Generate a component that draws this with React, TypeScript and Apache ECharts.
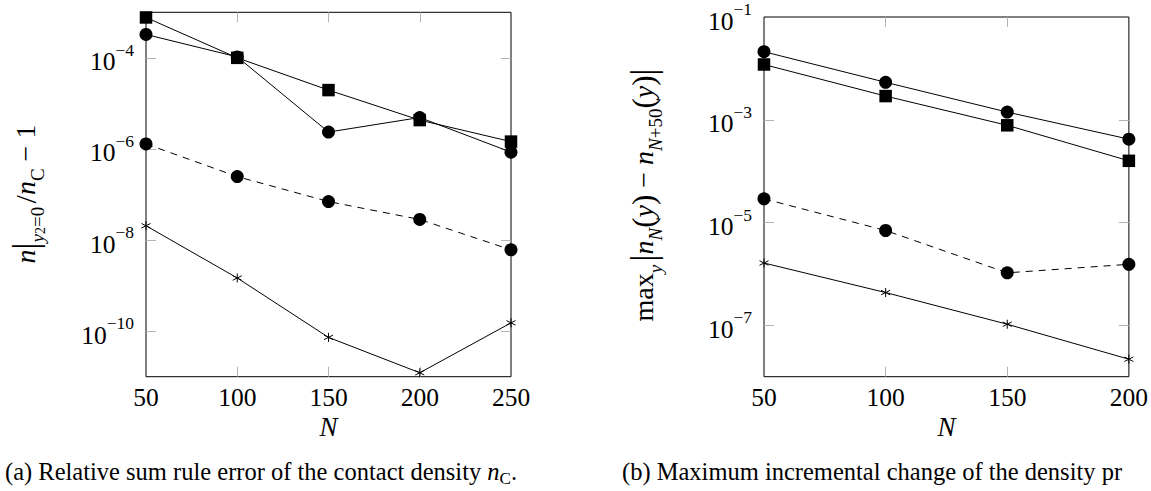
import React, { useEffect, useRef } from "react";
import * as echarts from "echarts";

// ---------- data ----------
const leftN = [50, 100, 150, 200, 250];
const leftSquares = [7.7e-4, 1.0e-4, 1.96e-5, 4.3e-6, 1.45e-6];
const leftCircles = [3.26e-4, 1.05e-4, 2.35e-6, 4.9e-6, 8.5e-7];
const leftDashed = [1.29e-6, 2.47e-7, 7.0e-8, 2.83e-8, 6.1e-9];
const leftStars = [2.06e-8, 1.47e-9, 7.3e-11, 1.22e-11, 1.52e-10];

const rightN = [50, 100, 150, 200];
const rightCircles = [2.11e-2, 5.36e-3, 1.41e-3, 4.2e-4];
const rightSquares = [1.19e-2, 2.89e-3, 7.8e-4, 1.59e-4];
const rightDashed = [2.89e-5, 7.0e-6, 1.05e-6, 1.54e-6];
const rightStars = [1.63e-6, 4.34e-7, 1.05e-7, 2.19e-8];

const leftXLabels = [50, 100, 150, 200, 250];
const leftXTicks = [100, 150, 200];
const leftYExp = [-10, -8, -6, -4];
const rightXLabels = [50, 100, 150, 200];
const rightXTicks = [100, 150];
const rightYLabelExp = [-7, -5, -3, -1];
const rightYTickExp = [-7, -5, -3];

const captionA = "(a) Relative sum rule error of the contact density ";
const captionB = "(b) Maximum incremental change of the density pr";

// ---------- styling ----------
const SERIF = "Liberation Serif";
const TICK_COLOR = "#b4b4b4";
const STAR = "path://M5,0L5,10M0.67,2.5L9.33,7.5M0.67,7.5L9.33,2.5";

const tickRich = {
  b: { fontFamily: SERIF, fontSize: 25.5, lineHeight: 34, verticalAlign: "bottom", color: "#000" },
  s: { fontFamily: SERIF, fontSize: 17.5, lineHeight: 20, verticalAlign: "top", color: "#000" },
};
const powLabel = (v: number) => `{b|10}{s|−${Math.abs(Math.round(v))}}`;

function pairs(xs: number[], ys: number[]) {
  return xs.map((x, i) => [x, Math.log10(ys[i])]);
}

function mkSeries(axisIdx: number, data: number[][], kind: "square" | "circle" | "star", dashed = false) {
  const sym = kind === "square" ? "rect" : kind === "circle" ? "circle" : STAR;
  const size = kind === "square" ? 12.5 : kind === "circle" ? 13 : 9;
  return {
    type: "line",
    xAxisIndex: axisIdx,
    yAxisIndex: axisIdx,
    data,
    clip: false,
    symbol: sym,
    symbolSize: size,
    showSymbol: true,
    lineStyle: { color: "#000", width: 1, type: dashed ? [7, 6] : "solid" },
    itemStyle:
      kind === "star"
        ? { color: "none", borderColor: "#000", borderWidth: 1 }
        : { color: "#000", borderWidth: 0 },
    emphasis: { disabled: true },
    z: 5,
  };
}

function xAxes(grid: number, min: number, max: number, labels: number[], ticks: number[]) {
  const base = {
    type: "value",
    gridIndex: grid,
    min,
    max,
    splitLine: { show: false },
    axisLine: { show: false },
    axisTick: { show: true, inside: true, length: 10, customValues: ticks, lineStyle: { color: TICK_COLOR, width: 1 } },
  };
  return [
    {
      ...base,
      position: "bottom",
      axisLabel: {
        show: true,
        customValues: labels,
        margin: 8,
        fontFamily: SERIF,
        fontSize: 25.5,
        color: "#000",
        hideOverlap: false,
      },
    },
    { ...base, position: "top", axisLabel: { show: false } },
  ];
}

function yAxes(grid: number, min: number, max: number, labels: number[], ticks: number[]) {
  const base = {
    type: "value",
    gridIndex: grid,
    min,
    max,
    splitLine: { show: false },
    axisLine: { show: false },
    axisTick: { show: true, inside: true, length: 10, customValues: ticks, lineStyle: { color: TICK_COLOR, width: 1 } },
  };
  return [
    {
      ...base,
      position: "left",
      axisLabel: {
        show: true,
        customValues: labels,
        margin: 12,
        formatter: powLabel,
        rich: tickRich,
      },
    },
    { ...base, position: "right", axisLabel: { show: false } },
  ];
}

const GRID_TOP = 12.3;
const GRID_H = 364.4;

const leftYName = "{i|n}{bar||}{si|y}{ss|2}{sr|=0} {bar2|/}{i|n}{sr|C}{r| − 1}";
const rightYName =
  "{r|max}{si|y} {bar||}{i|n}{si|N}{p|(}{i|y}{p|)}{r| − }{i|n}{si|N}{sr|+50}{p|(}{i|y}{p|)}{bar||}";

const nameRich = {
  i: { fontFamily: SERIF, fontStyle: "italic", fontSize: 28, lineHeight: 44, verticalAlign: "middle", color: "#000" },
  r: { fontFamily: SERIF, fontSize: 28, lineHeight: 44, verticalAlign: "middle", color: "#000" },
  p: { fontFamily: SERIF, fontSize: 31, lineHeight: 44, verticalAlign: "middle", color: "#000" },
  bar: { fontFamily: SERIF, fontSize: 35, lineHeight: 44, verticalAlign: "middle", color: "#000" },
  bar2: { fontFamily: SERIF, fontSize: 30, lineHeight: 44, verticalAlign: "middle", color: "#000" },
  si: { fontFamily: SERIF, fontStyle: "italic", fontSize: 19, lineHeight: 27, verticalAlign: "bottom", color: "#000" },
  sr: { fontFamily: SERIF, fontSize: 19, lineHeight: 27, verticalAlign: "bottom", color: "#000" },
  ss: { fontFamily: SERIF, fontSize: 14, lineHeight: 19, verticalAlign: "bottom", color: "#000" },
};

const capRich = {
  r: { fontFamily: SERIF, fontSize: 24.5, lineHeight: 32, verticalAlign: "middle", color: "#000" },
  i: { fontFamily: SERIF, fontStyle: "italic", fontSize: 24.5, lineHeight: 32, verticalAlign: "middle", color: "#000" },
  sr: { fontFamily: SERIF, fontSize: 17, lineHeight: 22, verticalAlign: "bottom", color: "#000" },
};

const option = {
  animation: false,
  backgroundColor: "#fff",
  grid: [
    { left: 146, top: GRID_TOP, width: 365, height: GRID_H, show: true, borderColor: "#000", borderWidth: 1, backgroundColor: "transparent" },
    { left: 764, top: GRID_TOP, width: 365.3, height: GRID_H, show: true, borderColor: "#000", borderWidth: 1, backgroundColor: "transparent" },
  ],
  xAxis: [
    ...xAxes(0, 50, 250, leftXLabels, leftXTicks),
    ...xAxes(1, 50, 200, rightXLabels, rightXTicks),
  ],
  yAxis: [
    ...yAxes(0, -11, -3, leftYExp, leftYExp),
    ...yAxes(1, -8, -1, rightYLabelExp, rightYTickExp),
  ],
  series: [
    mkSeries(0, pairs(leftN, leftSquares), "square"),
    mkSeries(0, pairs(leftN, leftCircles), "circle"),
    mkSeries(0, pairs(leftN, leftDashed), "circle", true),
    mkSeries(0, pairs(leftN, leftStars), "star"),
    mkSeries(2, pairs(rightN, rightCircles), "circle"),
    mkSeries(2, pairs(rightN, rightSquares), "square"),
    mkSeries(2, pairs(rightN, rightDashed), "circle", true),
    mkSeries(2, pairs(rightN, rightStars), "star"),
  ],
  graphic: [
    {
      type: "text",
      x: 25,
      y: 194,
      rotation: Math.PI / 2,
      style: { text: leftYName, rich: nameRich, align: "center", verticalAlign: "middle" },
    },
    {
      type: "text",
      x: 643,
      y: 195,
      rotation: Math.PI / 2,
      style: { text: rightYName, rich: nameRich, align: "center", verticalAlign: "middle" },
    },
    {
      type: "text",
      x: 328.5,
      y: 427,
      style: { text: "N", fontFamily: SERIF, fontStyle: "italic", fontSize: 27, fill: "#000", align: "center", verticalAlign: "middle" },
    },
    {
      type: "text",
      x: 946.6,
      y: 427,
      style: { text: "N", fontFamily: SERIF, fontStyle: "italic", fontSize: 27, fill: "#000", align: "center", verticalAlign: "middle" },
    },
    {
      type: "text",
      x: 5,
      y: 471,
      style: { text: `{r|${captionA}}{i|n}{sr|C}{r|.}`, rich: capRich, align: "left", verticalAlign: "middle" },
    },
    {
      type: "text",
      x: 622,
      y: 471,
      style: { text: `{r|${captionB}}`, rich: capRich, align: "left", verticalAlign: "middle" },
    },
  ],
};

export default function App() {
  const ref = useRef<HTMLDivElement>(null);
  useEffect(() => {
    const chart = echarts.init(ref.current!, null, { renderer: "svg" });
    chart.setOption(option as any);
    return () => chart.dispose();
  }, []);
  return (
    <div
      ref={ref}
      style={{ position: "fixed", left: 0, top: 0, width: 1151, height: 491, background: "#fff" }}
    />
  );
}
